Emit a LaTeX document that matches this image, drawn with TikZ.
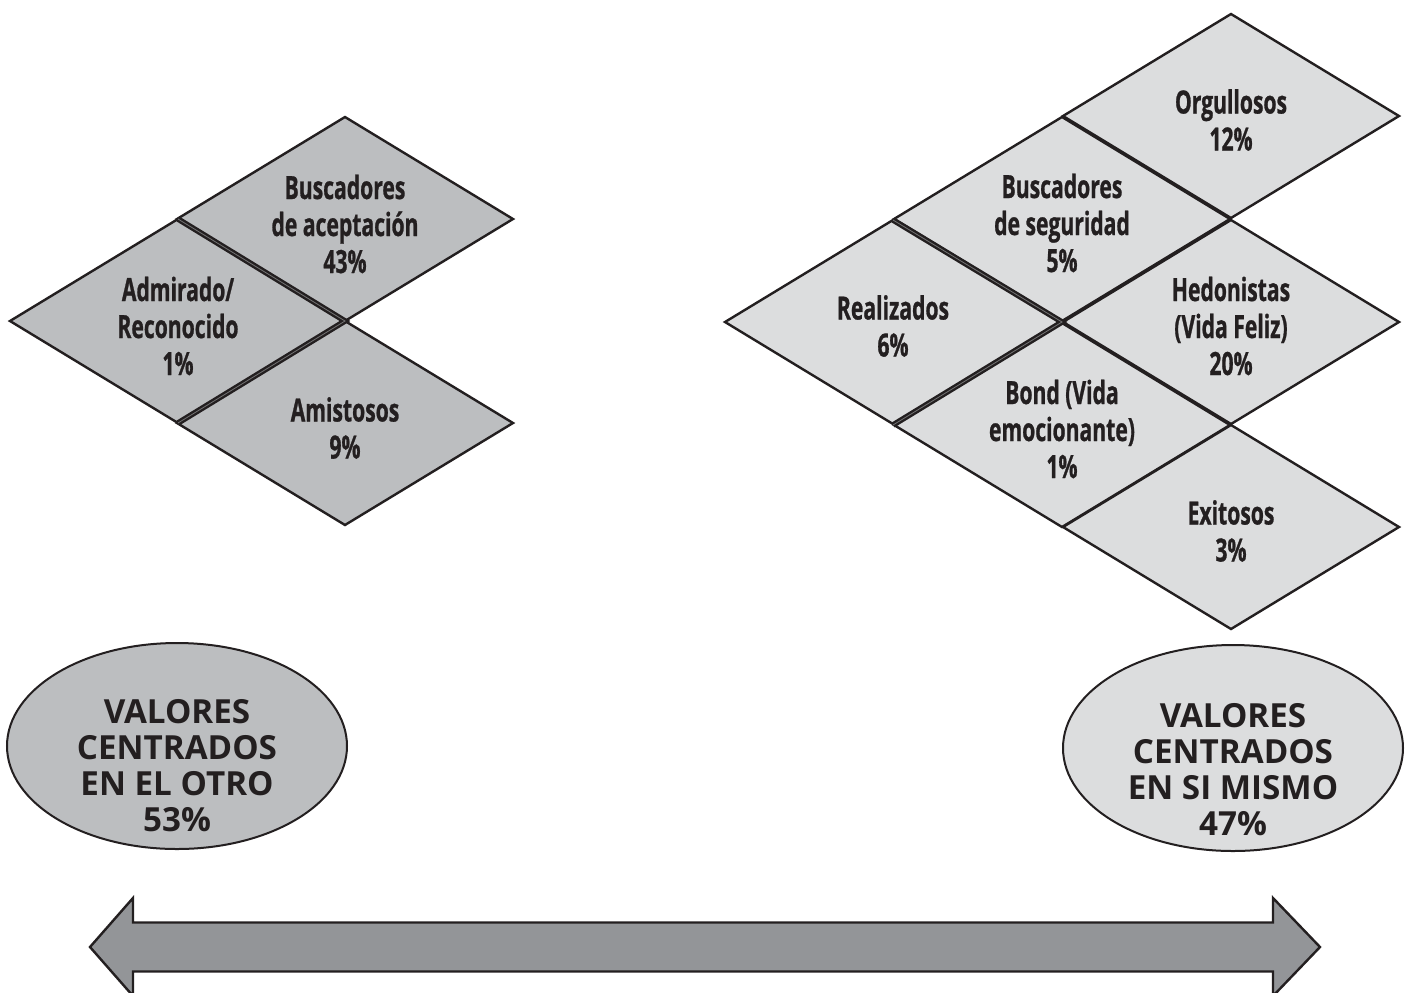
\documentclass[tikz,border=0pt]{standalone}
\usepackage{fontspec}
\setmainfont{Open Sans}
\newfontfamily\narrowfont[FakeStretch=0.66, FakeBold=0.8]{Open Sans}
\usetikzlibrary{shapes.geometric}

\definecolor{othergray}{HTML}{BCBEC0}
\definecolor{selfgray}{HTML}{DCDDDE}
\definecolor{arrowgray}{HTML}{939598}
\definecolor{inkblack}{HTML}{231F20}

\begin{document}
\begin{tikzpicture}[x=0.5pt, y=-0.5pt,
 cell/.style={align=center, inner sep=0pt, text=inkblack,
   font=\narrowfont\bfseries\fontsize{16}{18.5}\selectfont},
 rhomb/.style={draw=inkblack, line width=1.2pt, line join=miter},
 seam/.style={draw=inkblack, line width=1.2pt, double=black!55, double distance=0.4pt},
 group/.style={ellipse, draw=inkblack, line width=1pt, minimum width=170pt,
   minimum height=103pt, inner sep=0pt},
 grouptext/.style={align=center, inner sep=0pt, text=inkblack,
   font=\bfseries\fontsize{16.6}{18}\selectfont}
]
\path[use as bounding box] (0,0) rectangle (1408,992);

\def\hw{168}
\def\hh{102}

% values centred on the other
\foreach \cx/\cy/\nm/\txt in {345/219/acept/{Buscadores\\de aceptación\\43\%},
  178/321/admir/{Admirado/\\Reconocido\\1\%},
  345/423/amist/{Amistosos\\9\%}} {
 \draw[rhomb, fill=othergray] (\cx,\cy) +(-\hw,0) -- +(0,-\hh) -- +(\hw,0) -- +(0,\hh) -- cycle;
 \node (\nm) at (\cx,\cy+5) [cell] {\txt};
}
\draw[seam] (178,219) -- (345,321) -- (178,423);

% values centred on oneself
\foreach \cx/\cy/\nm/\txt in {1231/116/orgul/{Orgullosos\\12\%},
  1062/219/segur/{Buscadores\\de seguridad\\5\%},
  893/322/realiz/{Realizados\\6\%},
  1231/322/hedon/{Hedonistas\\(Vida Feliz)\\20\%},
  1062/425/bond/{Bond (Vida\\emocionante)\\1\%},
  1231/527/exit/{Exitosos\\3\%}} {
 \draw[rhomb, fill=selfgray] (\cx,\cy) +(-\hw,0) -- +(0,-\hh) -- +(\hw,0) -- +(0,\hh) -- cycle;
 \node (\nm) at (\cx,\cy+4) [cell] {\txt};
}
\draw[seam] (893,220) -- (1062,322) -- (893,425);

% the two groups
\node (otro) at (177,746) [group, fill=othergray] {};
\node (otrotxt) at (177,766) [grouptext] {VALORES\\CENTRADOS\\EN EL OTRO\\53\%};
\node (mismo) at (1233,748) [group, fill=selfgray] {};
\node (mismotxt) at (1233,770) [grouptext] {VALORES\\CENTRADOS\\EN SI MISMO\\47\%};

% double arrow
\draw[fill=arrowgray, draw=inkblack, line width=1.2pt, line join=miter]
 (90,947) -- (133,898) -- (133,922.5) -- (1273,922.5) -- (1273,898) -- (1320,947)
 -- (1273,996) -- (1273,971.5) -- (133,971.5) -- (133,996) -- cycle;

\end{tikzpicture}
\end{document}
